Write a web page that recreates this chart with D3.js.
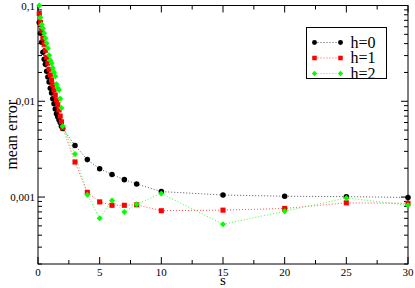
<!DOCTYPE html>
<html>
<head>
<meta charset="utf-8">
<script src="https://cdn.jsdelivr.net/npm/d3@7"></script>
<style>
  body { margin: 0; background: #fff; }
  svg { display: block; }
  text { font-family: "Liberation Serif", "Times New Roman", serif; }
</style>
</head>
<body>
<div id="chart"></div>
<script>
// s values shared by all three series
const sValues = [0.1, 0.2, 0.3, 0.4, 0.5, 0.6, 0.7, 0.8, 0.9, 1.0,
                 1.1, 1.2, 1.3, 1.4, 1.5, 1.6, 1.7, 1.8, 1.9, 2.0,
                 3, 4, 5, 6, 7, 8, 10, 15, 20, 25, 30];

const errH0 = [0.0666, 0.0512, 0.0413, 0.0325, 0.0275, 0.0244, 0.0206, 0.0179, 0.0159, 0.0137,
               0.0122, 0.0106, 0.0094, 0.0083, 0.0074, 0.0069, 0.0064, 0.0060, 0.0055, 0.0052,
               0.00346, 0.00246, 0.00197, 0.00172, 0.00152, 0.00137, 0.00114, 0.00105, 0.00102, 0.00101, 0.00099];

const errH1 = [0.0826, 0.0666, 0.0550, 0.0454, 0.0394, 0.0341, 0.0288, 0.0250, 0.0216, 0.0188,
               0.0166, 0.0148, 0.0131, 0.0116, 0.0103, 0.0092, 0.0081, 0.0070, 0.0061, 0.0053,
               0.00232, 0.00112, 0.00089, 0.00082, 0.00082, 0.00083, 0.00072, 0.00073, 0.00076, 0.00087, 0.00086];

const errH2 = [0.100, 0.0750, 0.0635, 0.0577, 0.0512, 0.0454, 0.0403, 0.0358, 0.0303, 0.0268,
               0.0250, 0.0222, 0.0201, 0.0183, 0.0151, 0.0137, 0.0131, 0.0106, 0.0085, 0.0055,
               0.00282, 0.00106, 0.00060, 0.00092, 0.00070, 0.00084, 0.00109, 0.00052, 0.00071, 0.00098, 0.00082];

const seriesNames = ["h=0", "h=1", "h=2"];
const seriesColors = ["#000000", "#ff0000", "#00ff00"];
const seriesLineColors = ["#555555", "#ff5050", "#40ff40"];

const xTicks = [0, 5, 10, 15, 20, 25, 30];
const yTicks = [0.1, 0.01, 0.001];

const W = 415, H = 288;
const margin = {top: 5.5, right: 7, bottom: 24, left: 38};

const svg = d3.select("#chart").append("svg")
    .attr("width", W)
    .attr("height", H);

const x = d3.scaleLinear().domain([0, 30]).range([margin.left, W - margin.right]);
const y = d3.scaleLog().domain([0.0002, 0.1]).range([H - margin.bottom, margin.top]);

const x0 = x.range()[0], x1 = x.range()[1];
const y0 = y.range()[0], y1 = y.range()[1];

// minor ticks
const xMinor = d3.range(2.5, 30, 5);
const yMinor = [];
[0.0001, 0.001, 0.01].forEach(d => {
    for (let k = 2; k <= 9; k++) {
        const v = d * k;
        if (v >= 0.0002 && v < 0.1) yMinor.push(v);
    }
});

const ticks = svg.append("g").attr("stroke", "#000").attr("stroke-width", 1);

// x ticks bottom and top (inward)
xTicks.forEach(t => {
    ticks.append("line").attr("x1", x(t)).attr("x2", x(t)).attr("y1", y0).attr("y2", y0 - 7);
    ticks.append("line").attr("x1", x(t)).attr("x2", x(t)).attr("y1", y1).attr("y2", y1 + 7);
});
xMinor.forEach(t => {
    ticks.append("line").attr("x1", x(t)).attr("x2", x(t)).attr("y1", y0).attr("y2", y0 - 4);
    ticks.append("line").attr("x1", x(t)).attr("x2", x(t)).attr("y1", y1).attr("y2", y1 + 4);
});
// y ticks left and right (inward)
yTicks.forEach(t => {
    ticks.append("line").attr("x1", x0).attr("x2", x0 + 7).attr("y1", y(t)).attr("y2", y(t));
    ticks.append("line").attr("x1", x1).attr("x2", x1 - 7).attr("y1", y(t)).attr("y2", y(t));
});
yMinor.forEach(t => {
    ticks.append("line").attr("x1", x0).attr("x2", x0 + 4).attr("y1", y(t)).attr("y2", y(t));
    ticks.append("line").attr("x1", x1).attr("x2", x1 - 4).attr("y1", y(t)).attr("y2", y(t));
});

// frame
svg.append("rect")
    .attr("x", x0).attr("y", y1)
    .attr("width", x1 - x0).attr("height", y0 - y1)
    .attr("fill", "none").attr("stroke", "#000").attr("stroke-width", 1);

// tick labels
svg.selectAll(".xlab").data(xTicks).enter().append("text")
    .attr("x", d => x(d)).attr("y", y0 + 12)
    .attr("text-anchor", "middle")
    .attr("font-size", 11)
    .text(d => d);

svg.selectAll(".ylab").data(yTicks).enter().append("text")
    .attr("x", x0 - 3).attr("y", d => y(d) + 4)
    .attr("text-anchor", "end")
    .attr("font-size", 11)
    .text(d => String(d).replace(".", ","));

// axis titles
svg.append("text")
    .attr("x", (x0 + x1) / 2).attr("y", H - 3)
    .attr("text-anchor", "middle")
    .attr("font-size", 15)
    .text("s");

svg.append("text")
    .attr("transform", `translate(17, ${(y0 + y1) / 2}) rotate(-90)`)
    .attr("text-anchor", "middle")
    .attr("font-size", 16)
    .text("mean error");

// series
const allSeries = [errH0, errH1, errH2];
const line = d3.line().x(d => x(d[0])).y(d => y(d[1]));
const symbols = [d3.symbolCircle, d3.symbolSquare, d3.symbolSquare];
const symSizes = [24, 26, 18];
const symRot = [0, 0, 45];

allSeries.forEach((vals, i) => {
    const pts = sValues.map((s, j) => [s, vals[j]]);
    svg.append("path")
        .attr("d", line(pts))
        .attr("fill", "none")
        .attr("stroke", seriesLineColors[i])
        .attr("stroke-width", 1)
        .attr("stroke-dasharray", "1,2");
});
allSeries.forEach((vals, i) => {
    const pts = sValues.map((s, j) => [s, vals[j]]);
    svg.append("g").selectAll("path").data(pts).enter().append("path")
        .attr("transform", d => `translate(${x(d[0])},${y(d[1])}) rotate(${symRot[i]})`)
        .attr("d", d3.symbol().type(symbols[i]).size(symSizes[i]))
        .attr("fill", seriesColors[i]);
});

// legend
const lg = svg.append("g").attr("transform", "translate(306.5,27.5)");
lg.append("rect")
    .attr("width", 80).attr("height", 51)
    .attr("fill", "#fff").attr("stroke", "#000").attr("stroke-width", 1);
seriesNames.forEach((name, i) => {
    const yy = 15 + i * 15.5;
    lg.append("line")
        .attr("x1", 8).attr("x2", 34).attr("y1", yy).attr("y2", yy)
        .attr("stroke", seriesLineColors[i]).attr("stroke-dasharray", "1,2");
    [8, 34].forEach(px => {
        lg.append("path")
            .attr("transform", `translate(${px},${yy}) rotate(${symRot[i]})`)
            .attr("d", d3.symbol().type(symbols[i]).size(symSizes[i] * 0.8))
            .attr("fill", seriesColors[i]);
    });
    lg.append("text")
        .attr("x", 44).attr("y", yy + 5)
        .attr("font-size", 16)
        .text(name);
});
</script>
</body>
</html>
